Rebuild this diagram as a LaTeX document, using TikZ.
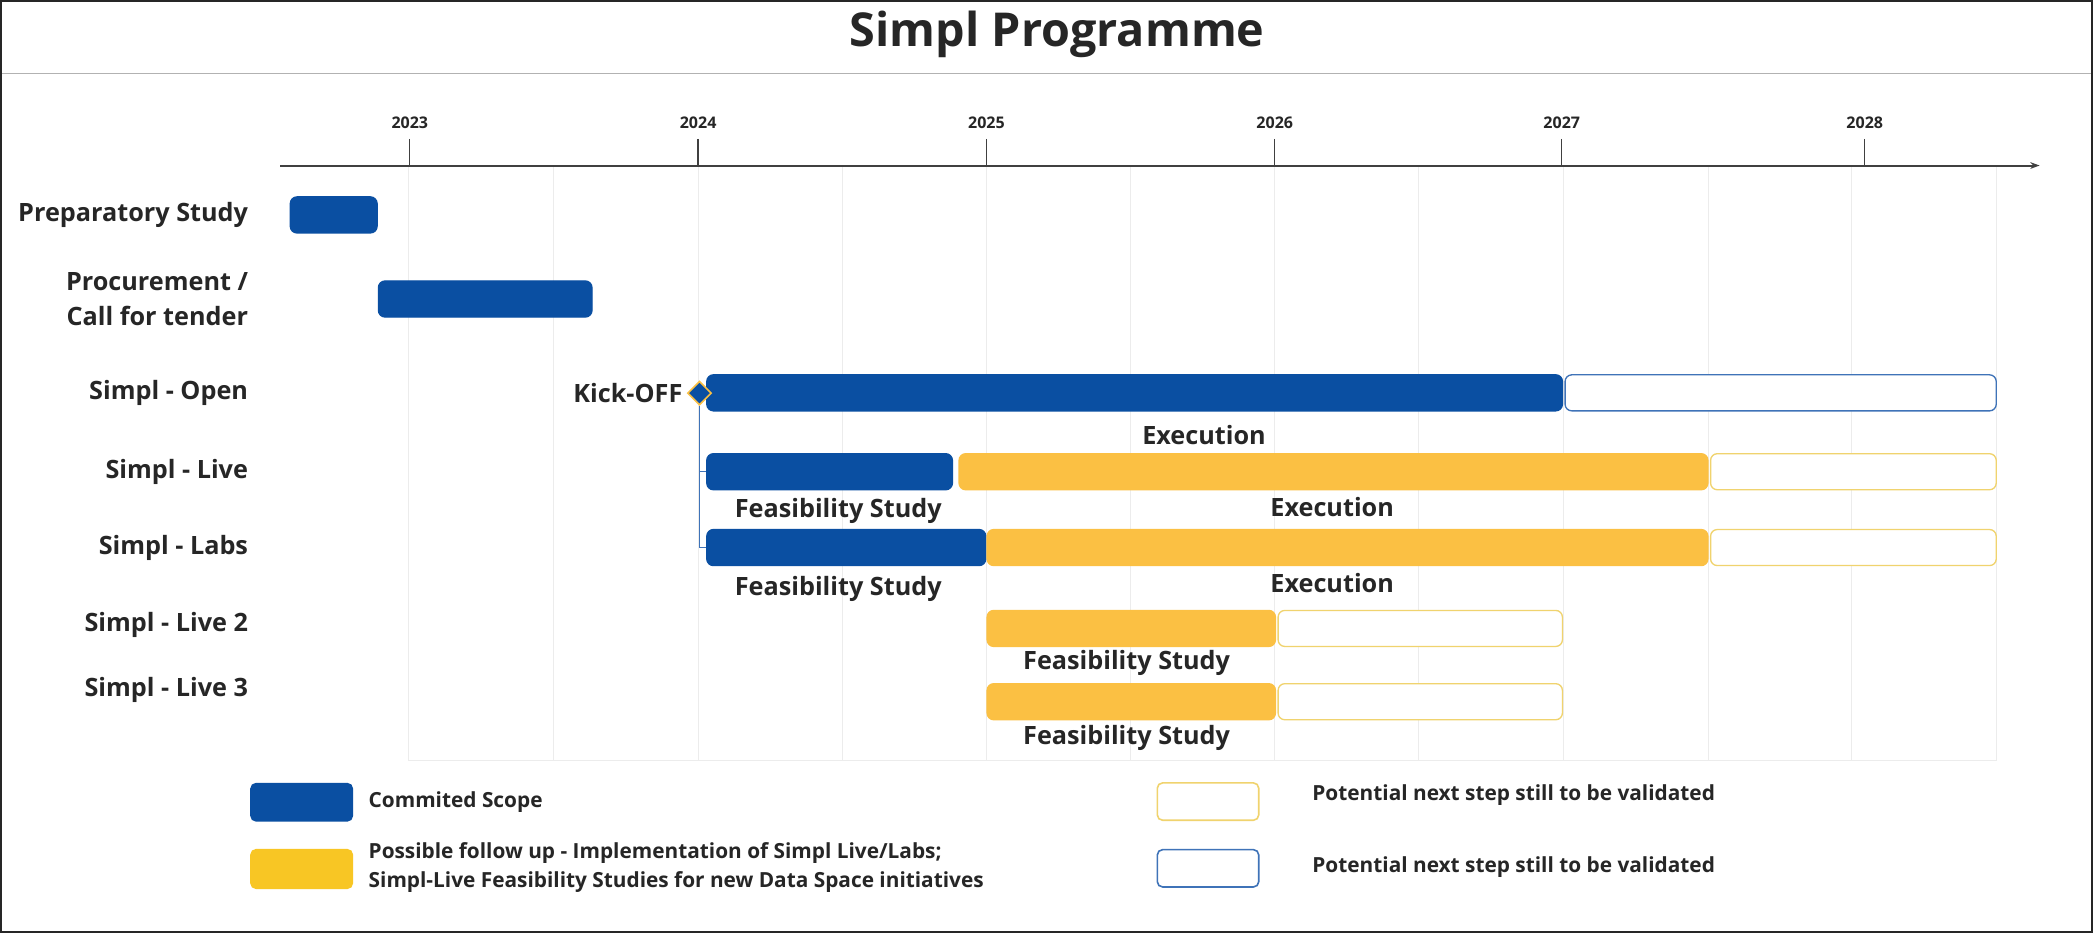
\documentclass[tikz,border=0pt]{standalone}
\usepackage{fontspec}
\setmainfont{Open Sans}
\usetikzlibrary{shapes.geometric,arrows.meta}
\definecolor{eublue}{HTML}{0A4FA2}
\definecolor{euyel}{HTML}{FBC043}
\definecolor{legyel}{HTML}{F8C624}
\definecolor{yelline}{HTML}{F0D36E}
\definecolor{blueline}{HTML}{3F73B8}
\definecolor{txt}{HTML}{262626}
\definecolor{gridc}{HTML}{ECECEC}
\begin{document}
\begin{tikzpicture}[x=1pt,y=-1pt,
  bar/.style={rounded corners=5pt, minimum height=27pt, inner sep=0pt, anchor=west, line width=1pt},
  bluebar/.style={bar, fill=eublue, draw=eublue},
  yelbar/.style={bar, fill=euyel, draw=euyel},
  yelopen/.style={bar, fill=white, draw=yelline},
  blueopen/.style={bar, fill=white, draw=blueline},
  rowlab/.style={font=\bfseries\fontsize{18.9}{26}\selectfont, text=txt, anchor=east, align=right, inner sep=0pt},
  barlab/.style={font=\bfseries\fontsize{18.9}{22}\selectfont, text=txt, inner sep=0pt},
  yearlab/.style={font=\bfseries\fontsize{12}{14}\selectfont, text=txt, inner sep=0pt},
  leglab/.style={font=\bfseries\fontsize{15.6}{22}\selectfont, text=txt, anchor=west, align=left, inner sep=0pt},
  swatch/.style={rounded corners=4pt, minimum width=76pt, minimum height=28pt, inner sep=0pt, line width=1.2pt},
  gridline/.style={gridc, line width=0.8pt},
  axisline/.style={black!75, line width=1.5pt},
  kline/.style={blueline, line width=0.8pt}
]
\useasboundingbox (0,0) rectangle (1568,699);
\fill[white] (0,0) rectangle (1568,699);
% title
\node[font=\bfseries\fontsize{35}{40}\selectfont, text=txt] (title) at (792,26) {Simpl Programme};
\draw[black!30, line width=1pt] (0,55) -- (1568,55);
% grid
\foreach \gx in {306,415,523,631,739,847,955,1063,1171,1280,1387,1496}
  \draw[gridline] (\gx,125) -- (\gx,570);
\draw[gridline] (306,570) -- (1496,570);
% axis
\coordinate (axs) at (210,124);
\coordinate (axe) at (1528,124);
\draw[axisline, -{Stealth[length=7pt,width=5pt]}] (axs) -- (axe);
\foreach \yx/\yr in {307/2023,523/2024,739/2025,955/2026,1170/2027,1397/2028}{
  \draw[axisline, line width=1pt] (\yx,104) -- (\yx,124);
  \node[yearlab] (y\yr) at (\yx,92) {\yr};
}
% row labels
\node[rowlab] (lprep) at (186,161) {Preparatory Study};
\node[rowlab] (lproc) at (186,224) {Procurement /\\Call for tender};
\node[rowlab] (lopen) at (186,294.5) {Simpl - Open};
\node[rowlab] (llive) at (186,353.5) {Simpl - Live};
\node[rowlab] (llabs) at (186,410.5) {Simpl - Labs};
\node[rowlab] (llive2) at (186,468) {Simpl - Live 2};
\node[rowlab] (llive3) at (186,517) {Simpl - Live 3};
% bars
\node[bluebar, minimum width=65pt] (prep) at (217,161) {};
\node[bluebar, minimum width=160pt] (proc) at (283,224) {};
\node[bluebar, minimum width=641pt] (open) at (529,294.3) {};
\node[blueopen, minimum width=323pt] (openx) at (1172,294.3) {};
\node[bluebar, minimum width=184pt] (live1) at (529,353.4) {};
\node[yelbar, minimum width=561pt] (live2) at (718,353.4) {};
\node[yelopen, minimum width=214pt] (live3) at (1281,353.4) {};
\node[bluebar, minimum width=209pt] (labs1) at (529,410.2) {};
\node[yelbar, minimum width=540pt] (labs2) at (739,410.2) {};
\node[yelopen, minimum width=214pt] (labs3) at (1281,410.2) {};
\node[yelbar, minimum width=216pt] (lt2a) at (739,470.8) {};
\node[yelopen, minimum width=213pt] (lt2b) at (957,470.8) {};
\node[yelbar, minimum width=216pt] (lt3a) at (739,525.7) {};
\node[yelopen, minimum width=213pt] (lt3b) at (957,525.7) {};
% kick-off
\node[diamond, fill=eublue, draw=euyel, line width=1.2pt, minimum size=18pt, inner sep=0pt] (ko) at (524,294.5) {};
\node[barlab, anchor=east] (kol) at ([xshift=-3pt]ko.west) {Kick-OFF};
\draw[kline] (ko.south) |- (labs1.west);
\draw[kline] (ko.south |- live1.west) -- (live1.west);
% bar labels
\node[barlab] (e1) at (902,326) {Execution};
\node[barlab] (f1) at (628,383) {Feasibility Study};
\node[barlab] (e2) at (998,380) {Execution};
\node[barlab] (f2) at (628,441.5) {Feasibility Study};
\node[barlab] (e3) at (998,437) {Execution};
\node[barlab] (f3) at (844,497) {Feasibility Study};
\node[barlab] (f4) at (844,553) {Feasibility Study};
% legend
\node[swatch, fill=eublue, draw=eublue] (sw1) at (226,601) {};
\node[leglab] (t1) at (276,600.6) {Commited Scope};
\node[swatch, fill=legyel, draw=legyel, minimum height=29pt] (sw2) at (226,651) {};
\node[leglab] (t2) at (276,650) {Possible follow up - Implementation of Simpl Live/Labs;\\Simpl-Live Feasibility Studies for new Data Space initiatives};
\node[swatch, fill=white, draw=yelline] (sw3) at (905,600.5) {};
\node[leglab] (t3) at (983,595.6) {Potential next step still to be validated};
\node[swatch, fill=white, draw=blueline] (sw4) at (905,650.5) {};
\node[leglab] (t4) at (983,649.3) {Potential next step still to be validated};
% frame
\draw[black!85, line width=1.6pt] (0.8,0.8) rectangle (1567.2,698.2);
\end{tikzpicture}
\end{document}
